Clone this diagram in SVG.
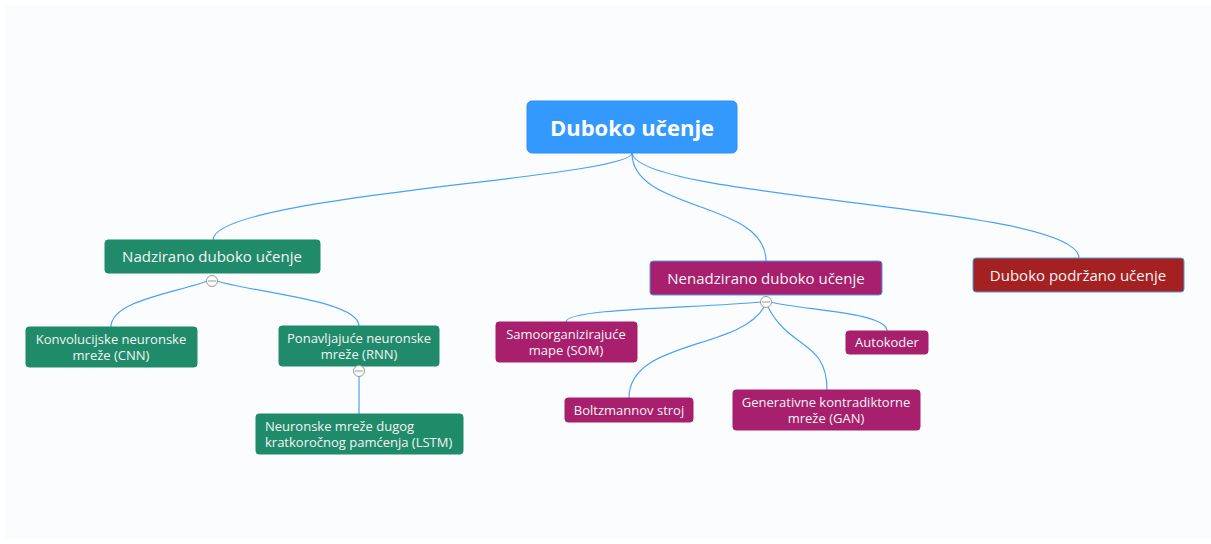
<svg xmlns="http://www.w3.org/2000/svg" width="1211" height="544" viewBox="0 0 1211 544">
<style>
.t{font-family:"Open Sans","Noto Sans","DejaVu Sans",sans-serif;fill:#f4f4f4;text-anchor:middle}
.root{font-size:22px;font-weight:bold;fill:#ffffff}
.l1{font-size:15px}
.l2{font-size:13px}
.g{fill:#1f8b6b;stroke:#1f8b6b}
.p{fill:#a81f6d;stroke:#a81f6d}
.c{fill:none;stroke:#4aa2f5;stroke-width:1.2}
.col{fill:#ffffff;stroke:#999;stroke-width:1}
</style>
<rect x="5" y="5" width="1206" height="533" fill="#fbfcfe"/>
<g id="connectors">
<path class="c" d="M632,153 C632,178 213,195 213,240"/>
<path class="c" d="M632,153 C632,212 766,200 766,261"/>
<path class="c" d="M632,153 C640,200 1079,205 1079,258"/>
<path class="c" d="M207,281 C180,292 111,300 111,327"/>
<path class="c" d="M217,281 C250,292 359,300 359,326"/>
<path class="c" d="M359,376 L359,414"/>
<path class="c" d="M761,302 C700,308 566,308 566,322"/>
<path class="c" d="M771,302 C800,310 887,312 887,331"/>
<path class="c" d="M764,307 C740,350 629,340 629,398"/>
<path class="c" d="M768,307 C790,350 827,340 827,390"/>
</g>
<g id="root">
<rect x="527" y="101" width="210" height="52" rx="5" fill="#3399fe" stroke="#2f8fef"/>
<text class="t root" x="632" y="136">Duboko učenje</text>
</g>
<g id="nadzirano">
<rect class="g" x="105" y="240" width="215" height="33" rx="3"/>
<text class="t l1" x="212" y="262">Nadzirano duboko učenje</text>
<circle class="col" cx="212" cy="281" r="5.5"/>
<line x1="208" y1="281" x2="216" y2="281" stroke="#999"/>
</g>
<g id="nenadzirano">
<rect x="650" y="261" width="232" height="34" rx="3" fill="#a81f6d" stroke="#4a9cf0"/>
<text class="t l1" x="766" y="284">Nenadzirano duboko učenje</text>
<circle class="col" cx="766" cy="302" r="5.5"/>
<line x1="762" y1="302" x2="770" y2="302" stroke="#999"/>
</g>
<g id="podrzano">
<rect x="973" y="258" width="211" height="34" rx="3" fill="#a52021" stroke="#4a9cf0"/>
<text class="t l1" x="1078" y="281">Duboko podržano učenje</text>
</g>
<g id="cnn">
<rect class="g" x="26" y="327" width="171" height="40" rx="3"/>
<text class="t l2" x="111" y="344">Konvolucijske neuronske</text>
<text class="t l2" x="111" y="360">mreže (CNN)</text>
</g>
<g id="rnn">
<rect class="g" x="279" y="326" width="160" height="40" rx="3"/>
<text class="t l2" x="359" y="343">Ponavljajuće neuronske</text>
<text class="t l2" x="359" y="359">mreže (RNN)</text>
<circle class="col" cx="359" cy="371" r="5.5"/>
<line x1="355" y1="371" x2="363" y2="371" stroke="#999"/>
</g>
<g id="lstm">
<rect class="g" x="256" y="414" width="207" height="40" rx="3"/>
<text class="t l2" x="265" y="431" style="text-anchor:start">Neuronske mreže dugog</text>
<text class="t l2" x="265" y="447" style="text-anchor:start">kratkoročnog pamćenja (LSTM)</text>
</g>
<g id="som">
<rect class="p" x="496" y="322" width="141" height="40" rx="3"/>
<text class="t l2" x="566" y="339">Samoorganizirajuće</text>
<text class="t l2" x="566" y="355">mape (SOM)</text>
</g>
<g id="autokoder">
<rect class="p" x="846" y="331" width="82" height="23" rx="3"/>
<text class="t l2" x="887" y="347">Autokoder</text>
</g>
<g id="boltzmann">
<rect class="p" x="565" y="398" width="128" height="24" rx="3"/>
<text class="t l2" x="629" y="415">Boltzmannov stroj</text>
</g>
<g id="gan">
<rect class="p" x="733" y="390" width="187" height="40" rx="3"/>
<text class="t l2" x="826" y="407">Generativne kontradiktorne</text>
<text class="t l2" x="826" y="423">mreže (GAN)</text>
</g>
</svg>
